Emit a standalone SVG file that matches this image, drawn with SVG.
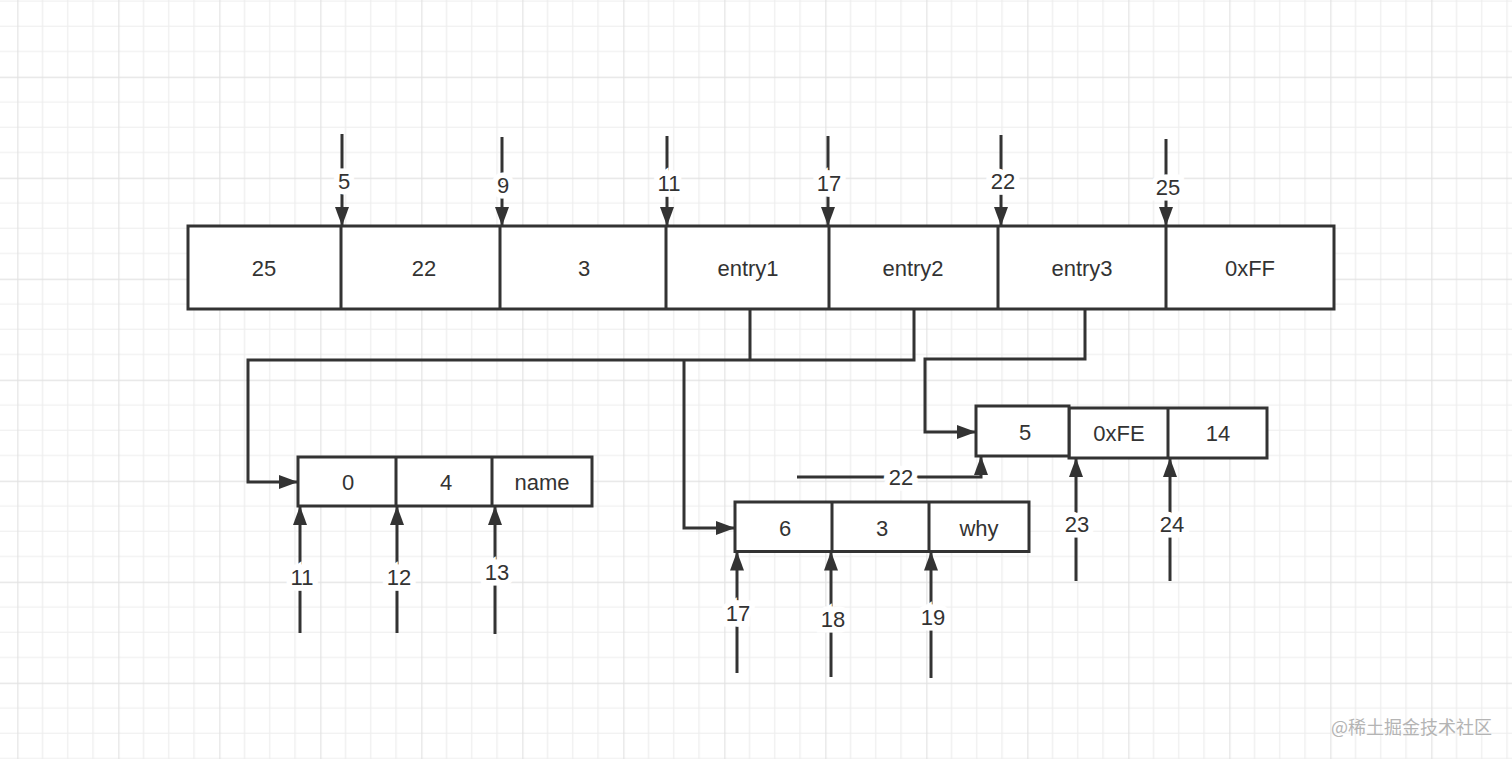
<svg xmlns="http://www.w3.org/2000/svg" width="1512" height="759" viewBox="0 0 1512 759">
  <defs>
    <pattern id="grid" patternUnits="userSpaceOnUse" x="17.3" y="76.7" width="101" height="101">
      <path d="M25.25,0 V101 M50.5,0 V101 M75.75,0 V101 M0,25.25 H101 M0,50.5 H101 M0,75.75 H101" stroke="#ededed" stroke-width="1.2" fill="none"/>
      <path d="M0.5,0 V101 M0,0.5 H101" stroke="#e2e2e2" stroke-width="1.4" fill="none"/>
    </pattern>
    <marker id="arr" markerUnits="userSpaceOnUse" markerWidth="20" markerHeight="14" refX="19" refY="7" orient="auto">
      <path d="M0,0 L19,7 L0,14 z" fill="#333"/>
    </marker>
    <style>
      .cell { fill: #fff; stroke: #333; stroke-width: 3; }
      .div { stroke: #333; stroke-width: 3; fill: none; }
      .edge { stroke: #333; stroke-width: 3; fill: none; }
      .ptr { stroke: #333; stroke-width: 3; fill: none; marker-end: url(#arr); }
      .t { font-family: "Liberation Sans", Arial, sans-serif; font-size: 22px; fill: #333; text-anchor: middle; }
      .lbl { font-family: "Liberation Sans", Arial, sans-serif; font-size: 22px; fill: #333; text-anchor: middle; paint-order: stroke; stroke: #fff; stroke-width: 11; stroke-linejoin: miter; }
      .wm { font-family: "Noto Sans CJK SC", "Noto Sans", sans-serif; font-size: 18px; fill: #b4b4b4; }
    </style>
  </defs>

  <rect width="1512" height="759" fill="#fff"/>
  <rect width="1512" height="759" fill="url(#grid)"/>

  <g id="main-array">
    <rect class="cell" x="188" y="226" width="1146" height="83"/>
    <path class="div" d="M341,226 V309 M500,226 V309 M666,226 V309 M829,226 V309 M998,226 V309 M1166,226 V309"/>
    <text class="t" x="264" y="276">25</text>
    <text class="t" x="424" y="276">22</text>
    <text class="t" x="584" y="276">3</text>
    <text class="t" x="748" y="276">entry1</text>
    <text class="t" x="913" y="276">entry2</text>
    <text class="t" x="1082" y="276">entry3</text>
    <text class="t" x="1250" y="276">0xFF</text>
  </g>

  <g id="entry1-node">
    <rect class="cell" x="298" y="457" width="294" height="49"/>
    <path class="div" d="M396,457 V506 M492,457 V506"/>
    <text class="t" x="348" y="490">0</text>
    <text class="t" x="446" y="490">4</text>
    <text class="t" x="542" y="490">name</text>
  </g>

  <g id="entry2-node">
    <rect class="cell" x="735" y="502" width="294" height="49.5"/>
    <path class="div" d="M832,502 V551.5 M929,502 V551.5"/>
    <text class="t" x="785" y="536">6</text>
    <text class="t" x="882" y="536">3</text>
    <text class="t" x="979" y="536">why</text>
  </g>

  <g id="entry3-node">
    <rect class="cell" x="1069" y="408" width="198" height="50"/>
    <path class="div" d="M1168,408 V458"/>
    <rect class="cell" x="976" y="406" width="93" height="50"/>
    <text class="t" x="1025" y="440">5</text>
    <text class="t" x="1119" y="441">0xFE</text>
    <text class="t" x="1218" y="441">14</text>
  </g>

  <g id="connectors">
    <path class="ptr" d="M342,134 V226"/>
    <path class="ptr" d="M502,137 V226"/>
    <path class="ptr" d="M667,136 V226"/>
    <path class="ptr" d="M828,136 V226"/>
    <path class="ptr" d="M1001,135 V226"/>
    <path class="ptr" d="M1166,139 V226"/>
    <text class="lbl" x="344" y="189">5</text>
    <text class="lbl" x="503" y="193">9</text>
    <text class="lbl" x="669" y="191">11</text>
    <text class="lbl" x="829" y="191">17</text>
    <text class="lbl" x="1003" y="189">22</text>
    <text class="lbl" x="1168" y="195">25</text>

    <path class="edge" d="M750,309 V360"/>
    <path class="ptr" d="M914,309 V360 H248 V482 H298"/>
    <path class="ptr" d="M684,360 V528 H735"/>
    <path class="ptr" d="M1085,309 V359 H925 V432 H976"/>

    <path class="ptr" d="M797,477 H981 V456"/>
    <text class="lbl" x="901" y="485">22</text>

    <path class="ptr" d="M300,633 V506"/>
    <path class="ptr" d="M397,633 V506"/>
    <path class="ptr" d="M495,634 V506"/>
    <text class="lbl" x="302" y="585">11</text>
    <text class="lbl" x="399" y="585">12</text>
    <text class="lbl" x="497" y="580">13</text>

    <path class="ptr" d="M737,673 V551.5"/>
    <path class="ptr" d="M831,677 V551.5"/>
    <path class="ptr" d="M931,678 V551.5"/>
    <text class="lbl" x="738" y="621">17</text>
    <text class="lbl" x="833" y="627">18</text>
    <text class="lbl" x="933" y="625">19</text>

    <path class="ptr" d="M1076,581 V458"/>
    <path class="ptr" d="M1170,581 V458"/>
    <text class="lbl" x="1077" y="532">23</text>
    <text class="lbl" x="1172" y="532">24</text>
  </g>

  <text class="wm" x="1331" y="734">@稀土掘金技术社区</text>
</svg>
